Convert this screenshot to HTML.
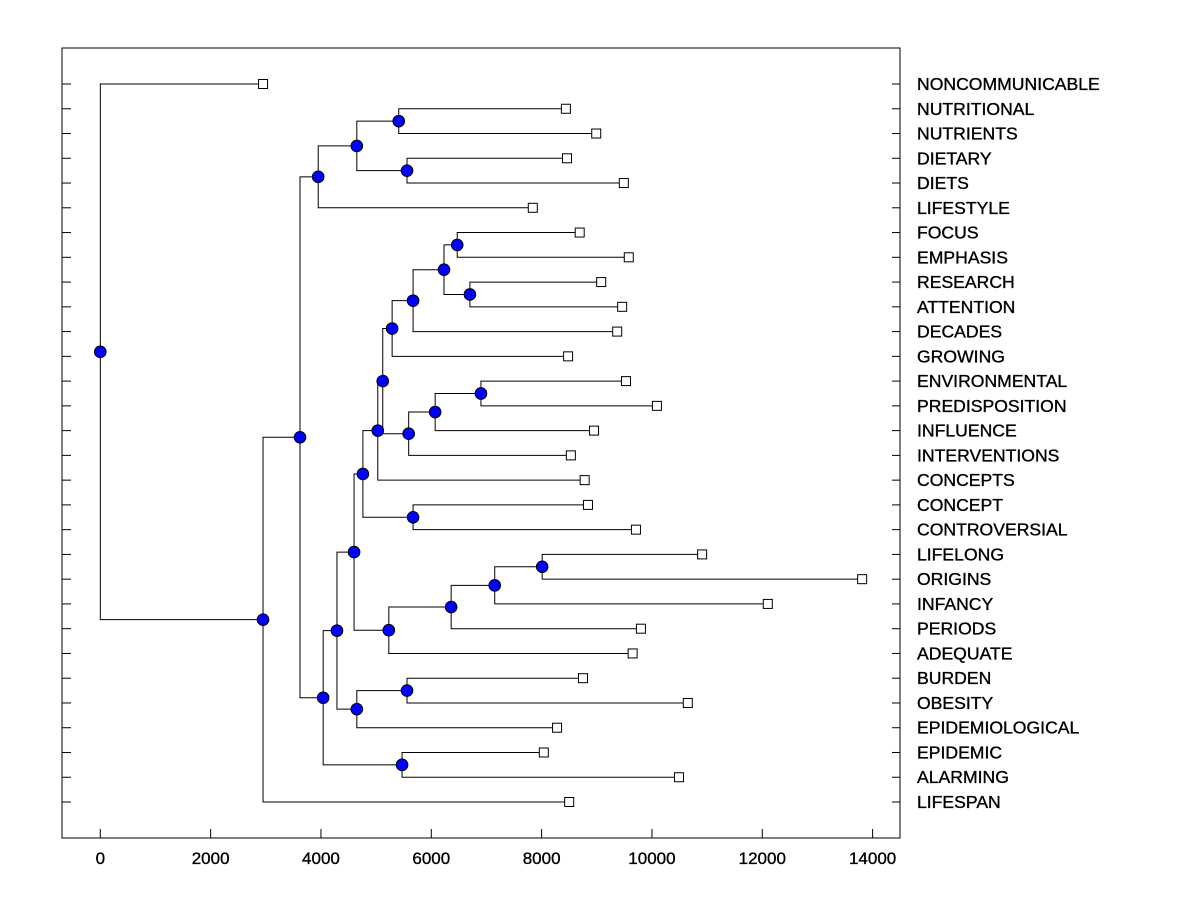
<!DOCTYPE html>
<html><head><meta charset="utf-8"><style>
html,body{margin:0;padding:0;background:#fff;}
svg text{font-family:"Liberation Sans",Arial,sans-serif;stroke:#000;stroke-width:0.35;}
</style></head><body>
<svg id="chart" width="1200" height="900" xmlns="http://www.w3.org/2000/svg">
<rect x="0" y="0" width="1200" height="900" fill="#fff"/>
<g id="plot"></g>
</svg>
<script>
const leafLabels = ["NONCOMMUNICABLE","NUTRITIONAL","NUTRIENTS","DIETARY","DIETS","LIFESTYLE","FOCUS","EMPHASIS","RESEARCH","ATTENTION","DECADES","GROWING","ENVIRONMENTAL","PREDISPOSITION","INFLUENCE","INTERVENTIONS","CONCEPTS","CONCEPT","CONTROVERSIAL","LIFELONG","ORIGINS","INFANCY","PERIODS","ADEQUATE","BURDEN","OBESITY","EPIDEMIOLOGICAL","EPIDEMIC","ALARMING","LIFESPAN"];
const leafValues = [2950,8440,8990,8460,9490,7840,8690,9580,9080,9460,9370,8480,9530,10090,8950,8530,8780,8840,9710,10910,13810,12100,9800,9650,8750,10650,8280,8040,10490,8500];
// merges: [childA, childB] ; leaf = name string, internal = "m"+index
const mergeChildren = [
 ["NUTRITIONAL","NUTRIENTS"],["DIETARY","DIETS"],["m0","m1"],["m2","LIFESTYLE"],
 ["FOCUS","EMPHASIS"],["RESEARCH","ATTENTION"],["m4","m5"],["m6","DECADES"],["m7","GROWING"],
 ["ENVIRONMENTAL","PREDISPOSITION"],["m9","INFLUENCE"],["m10","INTERVENTIONS"],["m8","m11"],
 ["m12","CONCEPTS"],["CONCEPT","CONTROVERSIAL"],["m13","m14"],["LIFELONG","ORIGINS"],
 ["m16","INFANCY"],["m17","PERIODS"],["m18","ADEQUATE"],["m15","m19"],["BURDEN","OBESITY"],
 ["m21","EPIDEMIOLOGICAL"],["m20","m22"],["EPIDEMIC","ALARMING"],["m23","m24"],["m3","m25"],
 ["m26","LIFESPAN"],["NONCOMMUNICABLE","m27"]
];
const mergeHeights = [5410,5560,4650,3950,6470,6700,6230,5670,5290,6900,6070,5590,5120,5030,5670,4760,8010,7150,6360,5230,4600,5560,4650,4290,5470,4040,3620,2950,0];
const xTicks = [0,2000,4000,6000,8000,10000,12000,14000];

const NS="http://www.w3.org/2000/svg";
const g=document.getElementById('plot');
const L=62,R=900,T=48,B=838;
const xs=v=>100.3+v*0.055165;
const ys=i=>84+i*(718/29);
function mk(tag,attrs){const e=document.createElementNS(NS,tag);for(const k in attrs)e.setAttribute(k,attrs[k]);g.appendChild(e);return e;}

const frame=mk('rect',{x:L,y:T,width:R-L,height:B-T,fill:'none',stroke:'#000','stroke-width':1});



xTicks.forEach(t=>{
  const tl=mk('line',{x1:xs(t),x2:xs(t),y1:B,y2:B-9,stroke:'#000'});
  
  
  const tx=mk('text',{x:xs(t),y:864,'text-anchor':'middle','font-size':17});
  tx.textContent=t;
  
  
});

const pos={};
leafLabels.forEach((n,i)=>{pos[n]={x:xs(leafValues[i]),y:ys(i),leaf:true};
  const a=mk('line',{x1:L,x2:L+9,y1:ys(i),y2:ys(i),stroke:'#000'});
  
  
  const b=mk('line',{x1:R-8,x2:R,y1:ys(i),y2:ys(i),stroke:'#000'});
  
  
  const t=mk('text',{x:917,y:ys(i)+6,'font-size':17.6});
  t.textContent=n;
  
  
});
const nodes=[];
mergeChildren.forEach((c,i)=>{
  const a=pos[c[0]],b=pos[c[1]];const x=xs(mergeHeights[i]);
  const y=(a.y+b.y)/2;pos['m'+i]={x:x,y:y,leaf:false};
  const p=mk('path',{d:`M${a.x},${a.y}H${x}V${b.y}H${b.x}`,fill:'none',stroke:'#000','stroke-width':1});
  
  
  nodes.push({x:x,y:y});
});
leafLabels.forEach(n=>{const p=pos[n];
  const s=mk('rect',{x:p.x-4.5,y:p.y-4.5,width:9,height:9,fill:'#fff',stroke:'#000'});
  
  
});
nodes.forEach(n=>{
  const c=mk('circle',{cx:n.x,cy:n.y,r:5.8,fill:'#0000ff',stroke:'#000','stroke-width':1});
  
  
});
</script>
</body></html>
